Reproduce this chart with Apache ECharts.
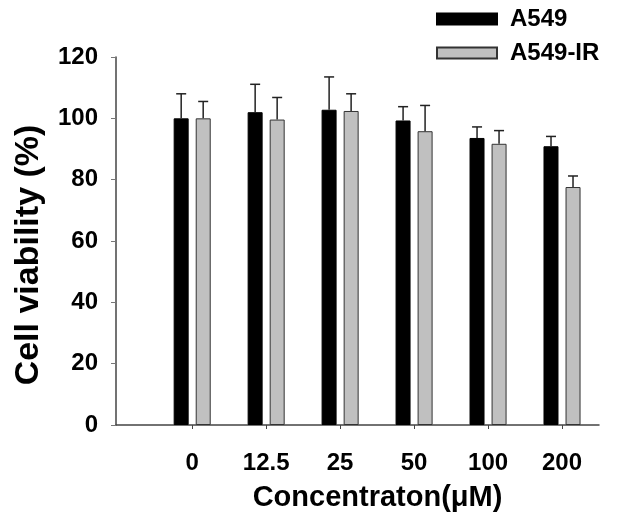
<!DOCTYPE html>
<html><head><meta charset="utf-8">
<script src="https://cdn.jsdelivr.net/npm/echarts@6/dist/echarts.min.js"></script>
<style>html,body{margin:0;padding:0;background:#fff}#c{width:629px;height:517px}</style>
</head><body><div id="c"></div>
<script>
var categories = ['0', '12.5', '25', '50', '100', '200'];
var a549 = [100, 102, 102.8, 99.3, 93.6, 90.9];
var a549Err = [8, 9.1, 10.7, 4.5, 3.6, 3.2];
var a549IR = [100, 99.6, 102.4, 95.8, 91.7, 77.6];
var a549IRErr = [5.5, 7.2, 5.6, 8.4, 4.3, 3.6];
var yTicks = [0, 20, 40, 60, 80, 100, 120];

var idx = categories.map(function (c, i) { return i; });
function pairs(vals) { return vals.map(function (v, i) { return [i, v]; }); }
function errPairs(vals, errs) { return vals.map(function (v, i) { return [i, v, errs[i]]; }); }

function errRender(offset) {
  return function (params, api) {
    var x = api.value(0), v = api.value(1), e = api.value(2);
    var p0 = api.coord([x, v]);
    var p1 = api.coord([x, v + e]);
    var cx = p0[0] + offset;
    var style = { stroke: '#222', lineWidth: 1.5 };
    return {
      type: 'group',
      children: [
        { type: 'line', shape: { x1: cx, y1: p0[1], x2: cx, y2: p1[1] }, style: style },
        { type: 'line', shape: { x1: cx - 5, y1: p1[1], x2: cx + 5, y2: p1[1] }, style: style }
      ]
    };
  };
}

var font = 'Arial, "Liberation Sans", sans-serif';
var chart = echarts.init(document.getElementById('c'));
chart.setOption({
  animation: false,
  backgroundColor: '#fff',
  grid: { left: 116, right: 30, top: 57, bottom: 90 },
  legend: {
    orient: 'vertical', left: 436, top: 7, padding: 0,
    itemWidth: 60, itemHeight: 11, itemGap: 10, icon: 'rect',
    textStyle: { fontFamily: font, fontWeight: 'bold', fontSize: 24, color: '#000', padding: [0, 0, 0, 8] },
    data: ['A549', 'A549-IR']
  },
  xAxis: {
    type: 'value', min: -1.03, max: 5.5,
    name: 'Concentraton(\u03bcM)', nameLocation: 'middle', nameGap: 58,
    nameTextStyle: { fontFamily: font, fontWeight: 'bold', fontSize: 29, color: '#000', padding: [0, 0, 0, 40] },
    splitLine: { show: false },
    axisLine: { show: true, onZero: false, lineStyle: { color: '#444', width: 1.5 } },
    axisTick: { show: true, length: 4, customValues: idx, lineStyle: { color: '#444' } },
    axisLabel: {
      customValues: idx, margin: 26,
      formatter: function (v) { return categories[Math.round(v)]; },
      fontFamily: font, fontWeight: 'bold', fontSize: 24, color: '#000'
    }
  },
  yAxis: {
    type: 'value', min: 0, max: 120, interval: 20,
    name: 'Cell viability (%)', nameLocation: 'middle', nameGap: 70, nameRotate: 90,
    nameTextStyle: { fontFamily: font, fontWeight: 'bold', fontSize: 34, color: '#000', padding: [0, 28, 0, 0] },
    splitLine: { show: false },
    axisLine: { show: true, onZero: false, lineStyle: { color: '#444', width: 1.5 } },
    axisTick: { show: true, length: 5, lineStyle: { color: '#777' } },
    axisLabel: {
      margin: 18,
      formatter: function (v) { return yTicks.indexOf(v) >= 0 ? String(v) : ''; },
      fontFamily: font, fontWeight: 'bold', fontSize: 24, color: '#000'
    }
  },
  series: [
    {
      name: 'A549', type: 'bar', data: pairs(a549), barWidth: 15, barGap: '47%',
      itemStyle: { color: '#000', borderColor: '#000', borderWidth: 1 }
    },
    {
      name: 'A549-IR', type: 'bar', data: pairs(a549IR), barWidth: 15,
      itemStyle: { color: '#c0c0c0', borderColor: '#333', borderWidth: 1 }
    },
    { type: 'custom', data: errPairs(a549, a549Err), renderItem: errRender(-11), z: 3, silent: true },
    { type: 'custom', data: errPairs(a549IR, a549IRErr), renderItem: errRender(11), z: 3, silent: true }
  ]
});
</script>
</body></html>
